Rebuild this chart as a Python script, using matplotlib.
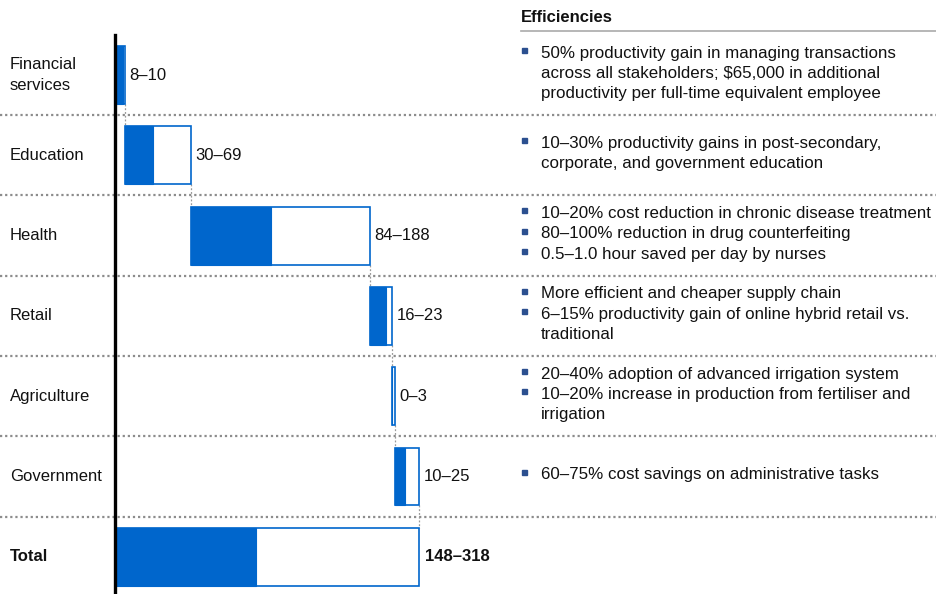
import matplotlib.pyplot as plt
from matplotlib.transforms import blended_transform_factory

plt.rcParams['font.family'] = ['Liberation Sans', 'DejaVu Sans']

categories = ['Financial\nservices', 'Education', 'Health', 'Retail', 'Agriculture', 'Government']
low = [8, 30, 84, 16, 0, 10]
high = [10, 69, 188, 23, 3, 25]
total_label = 'Total'
header = 'Efficiencies'
efficiencies = [
    [['50% productivity gain in managing transactions',
      'across all stakeholders; $65,000 in additional',
      'productivity per full-time equivalent employee']],
    [['10\u201330% productivity gains in post-secondary,',
      'corporate, and government education']],
    [['10\u201320% cost reduction in chronic disease treatment'],
     ['80\u2013100% reduction in drug counterfeiting'],
     ['0.5\u20131.0 hour saved per day by nurses']],
    [['More efficient and cheaper supply chain'],
     ['6\u201315% productivity gain of online hybrid retail vs.',
      'traditional']],
    [['20\u201340% adoption of advanced irrigation system'],
     ['10\u201320% increase in production from fertiliser and',
      'irrigation']],
    [['60\u201375% cost savings on administrative tasks']],
]

blue = '#0066CC'
grey = '#9a9a9a'
W, H = 937, 594
scale = 0.956          # pixels per unit
x0 = 115               # pixel of zero
row0, row_h = 75, 80.3  # pixel of first row centre, row pitch

fig = plt.figure(figsize=(W / 100, H / 100), dpi=100)
ax = fig.add_axes([0, 0, 1, 1])
ax.set_xlim(-x0 / scale, (W - x0) / scale)
ax.set_ylim((H - row0) / row_h, -row0 / row_h)
ax.axis('off')
tr = blended_transform_factory(ax.transAxes, ax.transData)

bar_h = 0.72
n = len(categories)
start = 0
starts = []
for i in range(n):
    starts.append(start)
    ax.barh(i, high[i], left=start, height=bar_h, color='white', edgecolor=blue, linewidth=1.2, zorder=3)
    ax.barh(i, low[i], left=start, height=bar_h, color=blue, edgecolor=blue, linewidth=0.8, zorder=4)
    ax.text(start + high[i] + 4.5, i, f'{low[i]}\u2013{high[i]}', va='center', ha='left', fontsize=12, color='#111111')
    start += high[i]

# total
tl, th = sum(low), sum(high)
ax.barh(n, th, left=0, height=bar_h, color='white', edgecolor=blue, linewidth=1.2, zorder=3)
ax.barh(n, tl, left=0, height=bar_h, color=blue, edgecolor=blue, linewidth=0.8, zorder=4)
ax.text(th + 6, n, f'{tl}\u2013{th}', va='center', ha='left', fontsize=12, fontweight='bold', color='#111111')

# connectors
for i in range(n):
    xc = starts[i] + high[i]
    ax.plot([xc, xc], [i + bar_h / 2, i + 1 - bar_h / 2], color=grey, linestyle=(0, (1.5, 1.5)), linewidth=0.9, zorder=2)

# row separators
for i in range(n):
    ax.plot([0, 1], [i + 0.5, i + 0.5], transform=tr, color='#8c8c8c', linestyle=(0, (1, 1.3)), linewidth=1.6, zorder=1)

# category labels
for i, c in enumerate(categories):
    ax.text(10 / W, i, c, transform=tr, va='center', ha='left', fontsize=12, color='#111111', linespacing=1.45)
ax.text(10 / W, n, total_label, transform=tr, va='center', ha='left', fontsize=12, fontweight='bold', color='#111111')

# axis line
ax.plot([0, 0], [(35 - row0) / row_h, (H - row0) / row_h], color='black', linewidth=2.4, zorder=5)

# right column
ax.text(521 / W, (17 - row0) / row_h, header, transform=tr, va='center', ha='left', fontsize=12, fontweight='bold', color='#111111')
ax.plot([521 / W, 1], [(31 - row0) / row_h] * 2, transform=tr, color='#aaaaaa', linewidth=1.2)
line_step = 20.3 / row_h
for i, bullets in enumerate(efficiencies):
    total_lines = sum(len(b) for b in bullets)
    y = i - (total_lines - 1) * line_step / 2 - 0.02
    for b in bullets:
        ax.plot([524 / W], [y - 0.04], transform=tr, marker='s', markersize=3.6, color='#2b4f8f', linestyle='none')
        for line in b:
            ax.text(541 / W, y, line, transform=tr, va='center', ha='left', fontsize=12.2, color='#111111')
            y += line_step

fig.savefig('out.png', dpi=100)
